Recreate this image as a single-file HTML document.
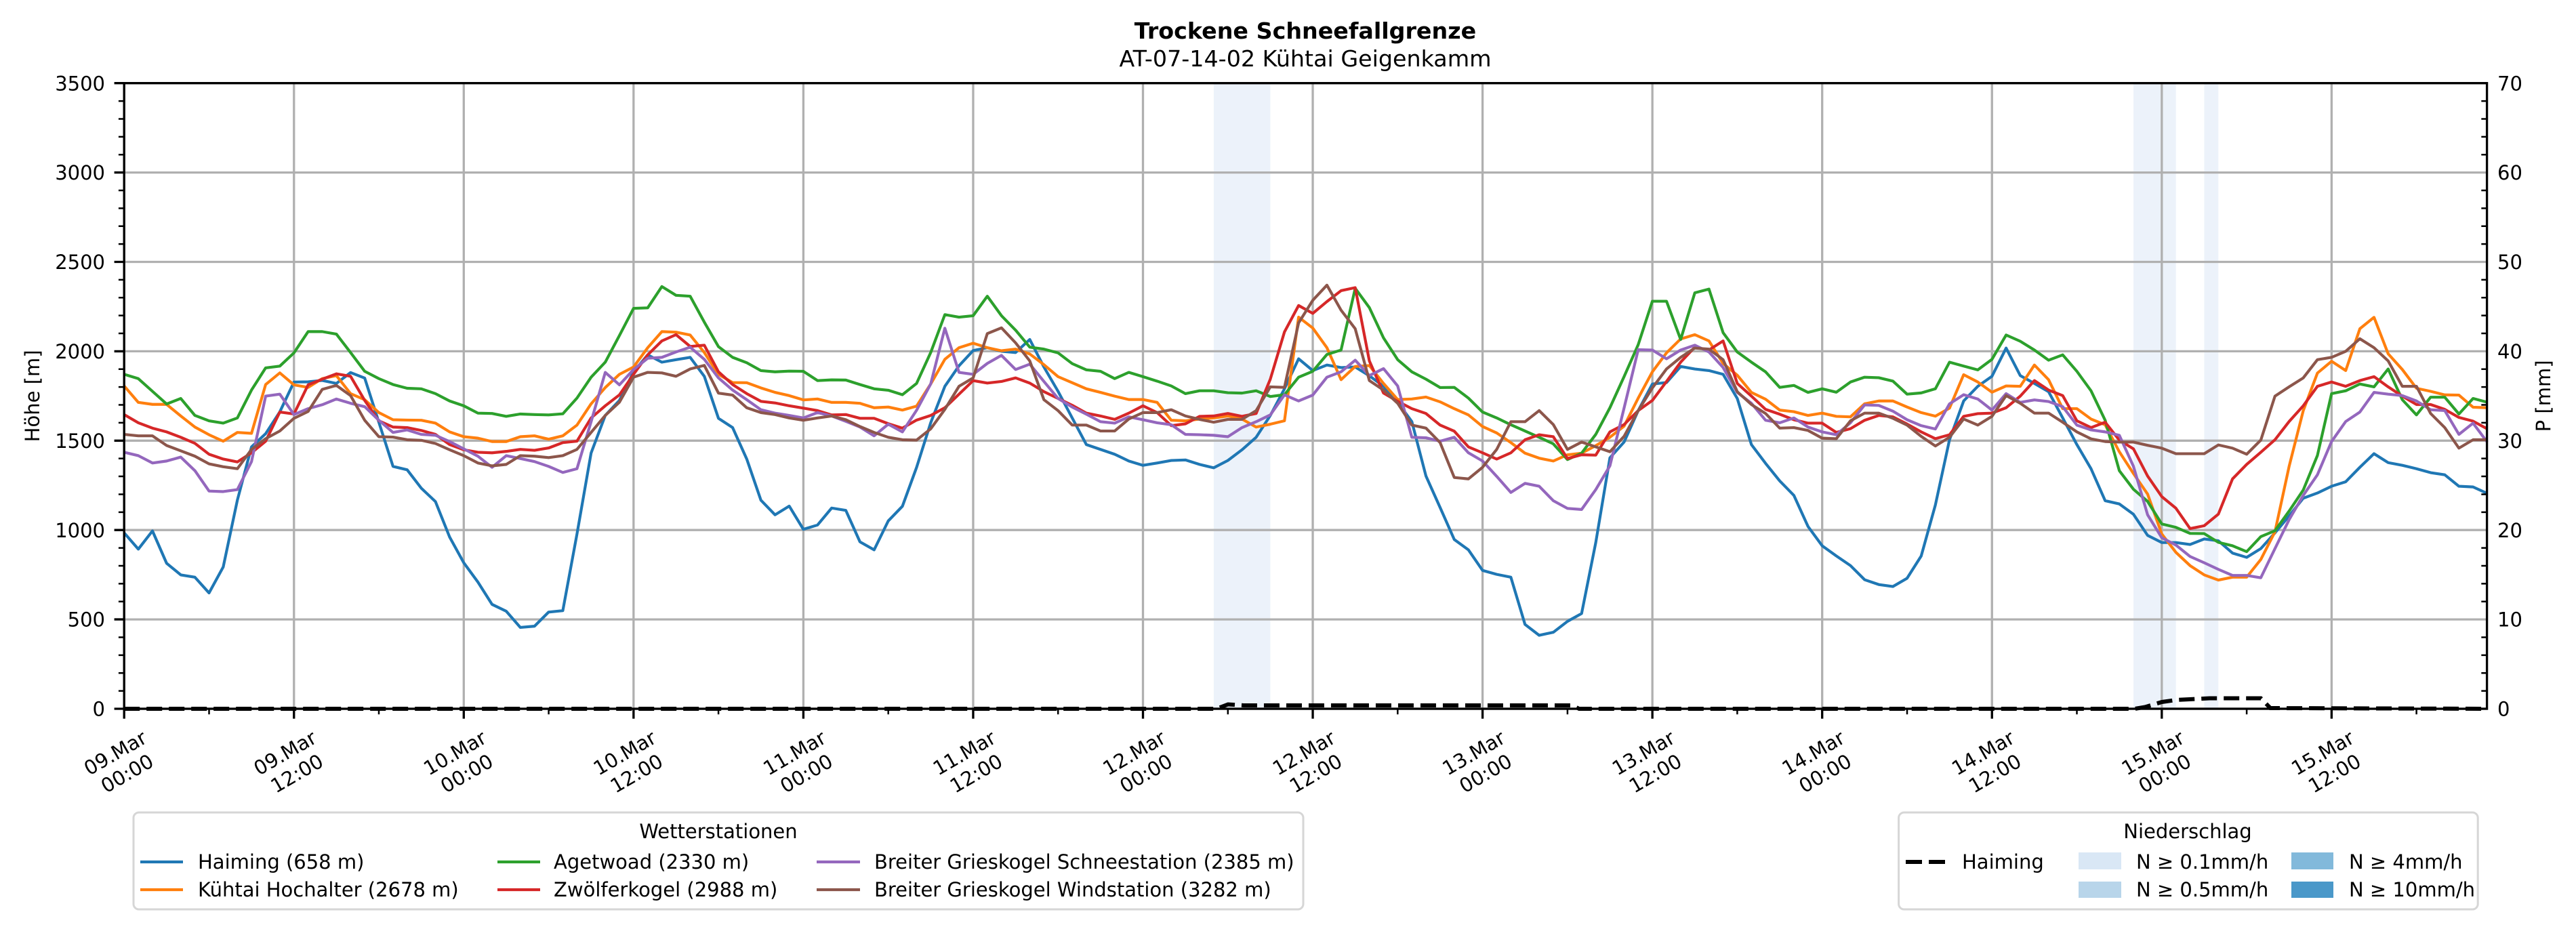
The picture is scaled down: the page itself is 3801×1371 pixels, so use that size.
<!DOCTYPE html>
<html><head><meta charset="utf-8"><style>
html,body{margin:0;padding:0;background:#fff;}
svg{display:block;}
text{font-family:"DejaVu Sans","Liberation Sans",sans-serif;fill:#000;}
</style></head><body>
<svg width="3801" height="1371" viewBox="0 0 3801 1371" xmlns="http://www.w3.org/2000/svg">
<rect x="0" y="0" width="3801" height="1371" fill="#fff"/>
<!-- title -->
<text x="1926" y="57" font-size="33.3" font-weight="bold" text-anchor="middle">Trockene Schneefallgrenze</text>
<text x="1926" y="98" font-size="33.3" text-anchor="middle">AT-07-14-02 Kühtai Geigenkamm</text>

<!-- precipitation shading -->
<g fill="#ecf2fa">
<rect x="1790.9" y="122.7" width="83.5" height="923.3"/>
<rect x="3148" y="122.7" width="62.7" height="923.3"/>
<rect x="3252.4" y="122.7" width="20.9" height="923.3"/>
</g>

<!-- grid -->
<g stroke="#b0b0b0" stroke-width="3.3" fill="none">
<path d="M183.2,122.7V1046 M433.75,122.7V1046 M684.3,122.7V1046 M934.85,122.7V1046 M1185.4,122.7V1046 M1435.95,122.7V1046 M1686.5,122.7V1046 M1937.05,122.7V1046 M2187.6,122.7V1046 M2438.15,122.7V1046 M2688.7,122.7V1046 M2939.25,122.7V1046 M3189.8,122.7V1046 M3440.35,122.7V1046"/>
<path d="M183.2,1046H3669.6 M183.2,914.1H3669.6 M183.2,782.2H3669.6 M183.2,650.3H3669.6 M183.2,518.4H3669.6 M183.2,386.5H3669.6 M183.2,254.6H3669.6 M183.2,122.7H3669.6"/>
</g>

<!-- series -->
<g transform="translate(183.2 1046) scale(20.879 -0.2638)" fill="none" stroke-width="4.17" stroke-linejoin="round">
<polyline vector-effect="non-scaling-stroke" stroke="#1f77b4" points="0,984 1,893 2,995 3,814 4,749 5,736 6,648 7,793 8,1167 9,1465 10,1539 11,1661 12,1828 13,1829 14,1837 15,1820 16,1881 17,1850 18,1603 19,1356 20,1337 21,1234 22,1159 23,961 24,817 25,709 26,584 27,546 28,455 29,462 30,541 31,549 32,977 33,1431 34,1641 35,1725 36,1885 37,1980 38,1939 39,1953 40,1966 41,1860 42,1625 43,1573 44,1397 45,1167 46,1085 47,1134 48,1004 49,1028 50,1123 51,1110 52,934 53,889 54,1051 55,1133 56,1350 57,1600 58,1804 59,1919 60,2004 61,2020 62,2000 63,1993 64,2066 65,1912 66,1776 67,1627 68,1478 69,1451 70,1424 71,1386 72,1362 73,1375 74,1389 75,1392 76,1367 77,1348 78,1389 79,1449 80,1519 81,1641 82,1790 83,1958 84,1892 85,1923 86,1909 87,1912 88,1863 89,1804 90,1715 91,1607 92,1302 93,1126 94,947 95,889 96,774 97,752 98,736 99,472 100,411 101,428 102,489 103,533 104,930 105,1404 106,1492 107,1668 108,1817 109,1825 110,1915 111,1901 112,1892 113,1871 114,1736 115,1478 116,1373 117,1275 118,1194 119,1020 120,912 121,855 122,801 123,722 124,695 125,684 126,730 127,855 128,1140 129,1505 130,1722 131,1804 132,1860 133,2018 134,1864 135,1820 136,1774 137,1627 138,1478 139,1343 140,1164 141,1146 142,1088 143,970 144,930 145,930 146,919 147,950 148,940 149,871 150,847 151,896 152,984 153,1079 154,1178 155,1207 156,1245 157,1270 158,1351 159,1427 160,1377 161,1362 162,1343 163,1321 164,1309 165,1245 166,1241 167,1205"/>
<polyline vector-effect="non-scaling-stroke" stroke="#ff7f0e" points="0,1806 1,1714 2,1703 3,1703 4,1638 5,1576 6,1533 7,1497 8,1546 9,1541 10,1814 11,1879 12,1812 13,1798 14,1847 15,1864 16,1763 17,1729 18,1657 19,1617 20,1615 21,1614 22,1598 23,1549 24,1522 25,1514 26,1495 27,1495 28,1522 29,1527 30,1508 31,1527 32,1587 33,1706 34,1797 35,1871 36,1912 37,2020 38,2110 39,2107 40,2091 41,1993 42,1871 43,1825 44,1824 45,1795 46,1770 47,1752 48,1728 49,1733 50,1714 51,1714 52,1709 53,1684 54,1688 55,1671 56,1693 57,1817 58,1955 59,2020 60,2045 61,2020 62,2003 63,2012 64,1985 65,1925 66,1858 67,1824 68,1790 69,1770 70,1749 71,1730 72,1730 73,1714 74,1614 75,1611 76,1621 77,1627 78,1638 79,1621 80,1576 81,1592 82,1611 83,2191 84,2130 85,2020 86,1841 87,1915 88,1920 89,1820 90,1730 91,1733 92,1744 93,1717 94,1679 95,1644 96,1579 97,1543 98,1489 99,1430 100,1402 101,1386 102,1421 103,1430 104,1472 105,1519 106,1581 107,1738 108,1885 109,1991 110,2069 111,2093 112,2058 113,1932 114,1866 115,1770 116,1732 117,1671 118,1662 119,1641 120,1654 121,1636 122,1633 123,1706 124,1722 125,1722 126,1688 127,1657 128,1637 129,1682 130,1869 131,1828 132,1771 133,1806 134,1804 135,1923 136,1841 137,1679 138,1679 139,1621 140,1589 141,1438 142,1316 143,1201 144,978 145,875 146,801 147,749 148,720 149,736 150,736 151,835 152,990 153,1356 154,1668 155,1878 156,1944 157,1892 158,2126 159,2190 160,1986 161,1898 162,1793 163,1776 164,1756 165,1755 166,1687 167,1684"/>
<polyline vector-effect="non-scaling-stroke" stroke="#2ca02c" points="0,1871 1,1847 2,1776 3,1705 4,1736 5,1641 6,1611 7,1598 8,1627 9,1783 10,1907 11,1917 12,1991 13,2110 14,2110 15,2096 16,1993 17,1888 18,1847 19,1814 20,1793 21,1790 22,1763 23,1722 24,1695 25,1654 26,1652 27,1636 28,1649 29,1646 30,1644 31,1650 32,1738 33,1855 34,1939 35,2088 36,2240 37,2243 38,2362 39,2313 40,2308 41,2163 42,2026 43,1966 44,1936 45,1892 46,1885 47,1889 48,1888 49,1836 50,1840 51,1839 52,1814 53,1790 54,1782 55,1757 56,1820 57,1993 58,2205 59,2191 60,2199 61,2308 62,2199 63,2118 64,2023 65,2012 66,1991 67,1931 68,1896 69,1888 70,1847 71,1882 72,1858 73,1833 74,1806 75,1763 76,1779 77,1779 78,1768 79,1766 80,1779 81,1747 82,1757 83,1855 84,1888 85,1982 86,2007 87,2352 88,2244 89,2075 90,1953 91,1885 92,1844 93,1797 94,1798 95,1738 96,1660 97,1627 98,1589 99,1554 100,1519 101,1482 102,1394 103,1430 104,1535 105,1684 106,1858 107,2037 108,2280 109,2280 110,2066 111,2327 112,2348 113,2104 114,1996 115,1939 116,1885 117,1798 118,1809 119,1770 120,1790 121,1771 122,1828 123,1855 124,1852 125,1833 126,1760 127,1767 128,1790 129,1939 130,1917 131,1896 132,1955 133,2091 134,2056 135,2007 136,1950 137,1980 138,1888 139,1779 140,1614 141,1332 142,1228 143,1160 144,1034 145,1015 146,981 147,980 148,931 149,912 150,879 151,963 152,996 153,1106 154,1224 155,1417 156,1763 157,1779 158,1817 159,1801 160,1901 161,1729 162,1644 163,1743 164,1743 165,1649 166,1736 167,1715"/>
<polyline vector-effect="non-scaling-stroke" stroke="#d62728" points="0,1646 1,1600 2,1570 3,1549 4,1519 5,1485 6,1424 7,1397 8,1381 9,1432 10,1497 11,1660 12,1649 13,1812 14,1844 15,1874 16,1860 17,1725 18,1611 19,1576 20,1573 21,1557 22,1535 23,1478 24,1449 25,1435 26,1432 27,1440 28,1451 29,1446 30,1459 31,1489 32,1497 33,1627 34,1695 35,1756 36,1871 37,1980 38,2058 39,2093 40,2027 41,2034 42,1885 43,1814 44,1763 45,1720 46,1711 47,1695 48,1682 49,1668 50,1644 51,1646 52,1625 53,1625 54,1595 55,1570 56,1615 57,1641 58,1684 59,1760 60,1836 61,1822 62,1831 63,1851 64,1822 65,1774 66,1736 67,1698 68,1654 69,1638 70,1619 71,1654 72,1695 73,1657 74,1584 75,1594 76,1636 77,1638 78,1652 79,1636 80,1652 81,1844 82,2108 83,2256 84,2212 85,2278 86,2339 87,2356 88,1946 89,1766 90,1720 91,1679 92,1652 93,1587 94,1553 95,1465 96,1432 97,1397 98,1432 99,1505 100,1533 101,1522 102,1400 103,1421 104,1419 105,1549 106,1590 107,1668 108,1725 109,1831 110,1939 111,2023 112,2007 113,2058 114,1820 115,1749 116,1675 117,1648 118,1617 119,1598 120,1598 121,1546 122,1567 123,1614 124,1641 125,1633 126,1593 127,1549 128,1511 129,1533 130,1636 131,1651 132,1654 133,1684 134,1749 135,1836 136,1783 137,1752 138,1611 139,1573 140,1603 141,1503 142,1454 143,1302 144,1187 145,1122 146,1008 147,1024 148,1089 149,1286 150,1367 151,1435 152,1505 153,1607 154,1695 155,1804 156,1828 157,1804 158,1836 159,1858 160,1801 161,1749 162,1702 163,1702 164,1675 165,1630 166,1609 167,1566"/>
<polyline vector-effect="non-scaling-stroke" stroke="#9467bd" points="0,1435 1,1416 2,1375 3,1386 4,1408 5,1332 6,1218 7,1215 8,1226 9,1383 10,1749 11,1760 12,1646 13,1679 14,1701 15,1733 16,1709 17,1690 18,1614 19,1546 20,1560 21,1535 22,1530 23,1495 24,1454 25,1413 26,1351 27,1416 28,1400 29,1383 30,1356 31,1322 32,1343 33,1606 34,1882 35,1812 36,1898 37,1961 38,1966 39,1996 40,2023 41,1955 42,1851 43,1783 44,1729 45,1673 46,1654 47,1641 48,1627 49,1657 50,1638 51,1608 52,1576 53,1527 54,1592 55,1549 56,1670 57,1817 58,2129 59,1882 60,1871 61,1932 62,1977 63,1898 64,1928 65,1831 66,1736 67,1688 68,1648 69,1606 70,1598 71,1633 72,1617 73,1600 74,1589 75,1535 76,1533 77,1530 78,1522 79,1573 80,1606 81,1644 82,1756 83,1722 84,1755 85,1855 86,1885 87,1950 88,1864 89,1903 90,1806 91,1519 92,1516 93,1497 94,1519 95,1432 96,1386 97,1300 98,1210 99,1261 100,1245 101,1164 102,1121 103,1115 104,1226 105,1359 106,1682 107,2009 108,2007 109,1958 110,2007 111,2034 112,1996 113,1909 114,1770 115,1709 116,1614 117,1600 118,1627 119,1576 120,1549 121,1533 122,1600 123,1700 124,1697 125,1665 126,1617 127,1584 128,1565 129,1706 130,1757 131,1733 132,1671 133,1763 134,1714 135,1728 136,1719 137,1690 138,1587 139,1560 140,1549 141,1530 142,1356 143,1085 144,957 145,916 146,852 147,817 148,780 149,746 150,746 151,733 152,896 153,1058 154,1194 155,1309 156,1495 157,1607 158,1660 159,1770 160,1760 161,1752 162,1722 163,1673 164,1668 165,1535 166,1598 167,1492"/>
<polyline vector-effect="non-scaling-stroke" stroke="#8c564b" points="0,1535 1,1527 2,1527 3,1473 4,1443 5,1413 6,1370 7,1354 8,1343 9,1451 10,1511 11,1554 12,1625 13,1663 14,1787 15,1809 16,1752 17,1614 18,1522 19,1520 20,1505 21,1502 22,1484 23,1449 24,1416 25,1375 26,1359 27,1367 28,1416 29,1413 30,1405 31,1416 32,1451 33,1546 34,1641 35,1715 36,1855 37,1882 38,1879 39,1860 40,1901 41,1921 42,1766 43,1755 44,1684 45,1657 46,1646 47,1627 48,1614 49,1627 50,1638 51,1617 52,1579 53,1546 54,1519 55,1505 56,1503 57,1566 58,1675 59,1804 60,1851 61,2099 62,2131 63,2047 64,1946 65,1729 66,1668 67,1587 68,1587 69,1554 70,1554 71,1621 72,1657 73,1657 74,1673 75,1638 76,1619 77,1603 78,1619 79,1619 80,1668 81,1801 82,1798 83,2159 84,2285 85,2370 86,2230 87,2126 88,1836 89,1783 90,1709 91,1587 92,1570 93,1489 94,1294 95,1286 96,1351 97,1451 98,1606 99,1606 100,1668 101,1590 102,1451 103,1492 104,1465 105,1438 106,1524 107,1668 108,1795 109,1901 110,1966 111,2018 112,2012 113,1953 114,1774 115,1702 116,1652 117,1570 118,1573 119,1557 120,1514 121,1511 122,1611 123,1654 124,1654 125,1625 126,1587 127,1524 128,1470 129,1519 130,1621 131,1587 132,1636 133,1752 134,1709 135,1654 136,1654 137,1603 138,1549 139,1510 140,1495 141,1492 142,1492 143,1474 144,1458 145,1427 146,1427 147,1427 148,1476 149,1458 150,1424 151,1503 152,1749 153,1801 154,1851 155,1953 156,1966 157,2000 158,2070 159,2020 160,1946 161,1804 162,1804 163,1652 164,1573 165,1458 166,1505 167,1505"/>
</g>

<!-- spines -->
<g stroke="#000" stroke-width="3.33" fill="none">
<rect x="183.2" y="122.7" width="3486.4" height="923.3"/>
</g>

<!-- precipitation dashed line -->
<path d="M183.2,1046 L1795,1046 L1812,1039.5 L1835,1041 L2320,1041 L2330,1046 L3150,1046 L3165,1043.5 L3190,1036 L3211,1033 L3260,1030.5 L3336,1030.5 L3350,1045 L3669.6,1046" fill="none" stroke="#000" stroke-width="6" stroke-dasharray="23 10"/>

<!-- ticks -->
<g stroke="#000" fill="none">
<path stroke-width="3.33" d="M168.6,1046H183.2 M168.6,914.1H183.2 M168.6,782.2H183.2 M168.6,650.3H183.2 M168.6,518.4H183.2 M168.6,386.5H183.2 M168.6,254.6H183.2 M168.6,122.7H183.2"/>
<path stroke-width="2.5" d="M174.9,1019.62H183.2 M174.9,993.24H183.2 M174.9,966.86H183.2 M174.9,940.48H183.2 M174.9,887.72H183.2 M174.9,861.34H183.2 M174.9,834.96H183.2 M174.9,808.58H183.2 M174.9,755.82H183.2 M174.9,729.44H183.2 M174.9,703.06H183.2 M174.9,676.68H183.2 M174.9,623.92H183.2 M174.9,597.54H183.2 M174.9,571.16H183.2 M174.9,544.78H183.2 M174.9,492.02H183.2 M174.9,465.64H183.2 M174.9,439.26H183.2 M174.9,412.88H183.2 M174.9,360.12H183.2 M174.9,333.74H183.2 M174.9,307.36H183.2 M174.9,280.98H183.2 M174.9,228.22H183.2 M174.9,201.84H183.2 M174.9,175.46H183.2 M174.9,149.08H183.2"/>
<path stroke-width="2.5" d="M3661.3,1019.62H3669.6 M3661.3,993.24H3669.6 M3661.3,966.86H3669.6 M3661.3,940.48H3669.6 M3661.3,887.72H3669.6 M3661.3,861.34H3669.6 M3661.3,834.96H3669.6 M3661.3,808.58H3669.6 M3661.3,755.82H3669.6 M3661.3,729.44H3669.6 M3661.3,703.06H3669.6 M3661.3,676.68H3669.6 M3661.3,623.92H3669.6 M3661.3,597.54H3669.6 M3661.3,571.16H3669.6 M3661.3,544.78H3669.6 M3661.3,492.02H3669.6 M3661.3,465.64H3669.6 M3661.3,439.26H3669.6 M3661.3,412.88H3669.6 M3661.3,360.12H3669.6 M3661.3,333.74H3669.6 M3661.3,307.36H3669.6 M3661.3,280.98H3669.6 M3661.3,228.22H3669.6 M3661.3,201.84H3669.6 M3661.3,175.46H3669.6 M3661.3,149.08H3669.6"/>
<path stroke-width="3.33" d="M183.2,1046V1060.6 M433.75,1046V1060.6 M684.3,1046V1060.6 M934.85,1046V1060.6 M1185.4,1046V1060.6 M1435.95,1046V1060.6 M1686.5,1046V1060.6 M1937.05,1046V1060.6 M2187.6,1046V1060.6 M2438.15,1046V1060.6 M2688.7,1046V1060.6 M2939.25,1046V1060.6 M3189.8,1046V1060.6 M3440.35,1046V1060.6"/>
<path stroke-width="2.5" d="M308.5,1046V1054.3 M559,1046V1054.3 M809.6,1046V1054.3 M1060.1,1046V1054.3 M1310.7,1046V1054.3 M1561.2,1046V1054.3 M1811.8,1046V1054.3 M2062.3,1046V1054.3 M2312.9,1046V1054.3 M2563.4,1046V1054.3 M2814,1046V1054.3 M3064.5,1046V1054.3 M3315.1,1046V1054.3 M3565.6,1046V1054.3"/>
</g>

<!-- left tick labels -->
<g font-size="29" text-anchor="end">
<text x="155" y="1056.6">0</text>
<text x="155" y="924.7">500</text>
<text x="155" y="792.8">1000</text>
<text x="155" y="660.9">1500</text>
<text x="155" y="529">2000</text>
<text x="155" y="397.1">2500</text>
<text x="155" y="265.2">3000</text>
<text x="155" y="133.3">3500</text>
</g>
<!-- right tick labels -->
<g font-size="29" text-anchor="start">
<text x="3685" y="1056.6">0</text>
<text x="3685" y="924.7">10</text>
<text x="3685" y="792.8">20</text>
<text x="3685" y="660.9">30</text>
<text x="3685" y="529">40</text>
<text x="3685" y="397.1">50</text>
<text x="3685" y="265.2">60</text>
<text x="3685" y="133.3">70</text>
</g>
<text font-size="29" text-anchor="middle" transform="translate(58 584.4) rotate(-90)">Höhe [m]</text>
<text font-size="29" text-anchor="middle" transform="translate(3763 584.4) rotate(-90)">P [mm]</text>

<!-- x tick labels -->
<g font-size="29" text-anchor="middle">
<text transform="translate(178.7 1126) rotate(-30)"><tspan x="0" y="-7">09.Mar</tspan><tspan x="0" y="28">00:00</tspan></text>
<text transform="translate(429.2 1126) rotate(-30)"><tspan x="0" y="-7">09.Mar</tspan><tspan x="0" y="28">12:00</tspan></text>
<text transform="translate(679.8 1126) rotate(-30)"><tspan x="0" y="-7">10.Mar</tspan><tspan x="0" y="28">00:00</tspan></text>
<text transform="translate(930.3 1126) rotate(-30)"><tspan x="0" y="-7">10.Mar</tspan><tspan x="0" y="28">12:00</tspan></text>
<text transform="translate(1180.9 1126) rotate(-30)"><tspan x="0" y="-7">11.Mar</tspan><tspan x="0" y="28">00:00</tspan></text>
<text transform="translate(1431.4 1126) rotate(-30)"><tspan x="0" y="-7">11.Mar</tspan><tspan x="0" y="28">12:00</tspan></text>
<text transform="translate(1682 1126) rotate(-30)"><tspan x="0" y="-7">12.Mar</tspan><tspan x="0" y="28">00:00</tspan></text>
<text transform="translate(1932.5 1126) rotate(-30)"><tspan x="0" y="-7">12.Mar</tspan><tspan x="0" y="28">12:00</tspan></text>
<text transform="translate(2183.1 1126) rotate(-30)"><tspan x="0" y="-7">13.Mar</tspan><tspan x="0" y="28">00:00</tspan></text>
<text transform="translate(2433.6 1126) rotate(-30)"><tspan x="0" y="-7">13.Mar</tspan><tspan x="0" y="28">12:00</tspan></text>
<text transform="translate(2684.2 1126) rotate(-30)"><tspan x="0" y="-7">14.Mar</tspan><tspan x="0" y="28">00:00</tspan></text>
<text transform="translate(2934.7 1126) rotate(-30)"><tspan x="0" y="-7">14.Mar</tspan><tspan x="0" y="28">12:00</tspan></text>
<text transform="translate(3185.3 1126) rotate(-30)"><tspan x="0" y="-7">15.Mar</tspan><tspan x="0" y="28">00:00</tspan></text>
<text transform="translate(3435.8 1126) rotate(-30)"><tspan x="0" y="-7">15.Mar</tspan><tspan x="0" y="28">12:00</tspan></text>
</g>

<!-- legend 1 -->
<rect x="197" y="1199" width="1726" height="143" rx="8" ry="8" fill="#fff" stroke="#d6d6d6" stroke-width="3"/>
<text x="1060" y="1237" font-size="29" text-anchor="middle">Wetterstationen</text>
<g stroke-width="4.17" fill="none">
<path d="M207,1272H270" stroke="#1f77b4"/>
<path d="M207,1313H270" stroke="#ff7f0e"/>
<path d="M734,1272H797" stroke="#2ca02c"/>
<path d="M734,1313H797" stroke="#d62728"/>
<path d="M1205,1272H1269" stroke="#9467bd"/>
<path d="M1205,1313H1269" stroke="#8c564b"/>
</g>
<g font-size="29">
<text x="292" y="1282">Haiming (658 m)</text>
<text x="292" y="1323">Kühtai Hochalter (2678 m)</text>
<text x="817" y="1282">Agetwoad (2330 m)</text>
<text x="817" y="1323">Zwölferkogel (2988 m)</text>
<text x="1290" y="1282">Breiter Grieskogel Schneestation (2385 m)</text>
<text x="1290" y="1323">Breiter Grieskogel Windstation (3282 m)</text>
</g>

<!-- legend 2 -->
<rect x="2801.6" y="1199" width="854.6" height="143" rx="8" ry="8" fill="#fff" stroke="#d6d6d6" stroke-width="3"/>
<text x="3228" y="1237" font-size="29" text-anchor="middle">Niederschlag</text>
<path d="M2812,1272H2871" stroke="#000" stroke-width="6" stroke-dasharray="24 10" fill="none"/>
<rect x="3067" y="1258" width="63" height="25" fill="#d9e7f5"/>
<rect x="3067" y="1301" width="63" height="24" fill="#b8d5ea"/>
<rect x="3381" y="1258" width="62" height="25" fill="#82b9db"/>
<rect x="3381" y="1301" width="62" height="24" fill="#4a98c9"/>
<g font-size="29">
<text x="2895" y="1282">Haiming</text>
<text x="3152" y="1282">N ≥ 0.1mm/h</text>
<text x="3152" y="1323">N ≥ 0.5mm/h</text>
<text x="3466" y="1282">N ≥ 4mm/h</text>
<text x="3466" y="1323">N ≥ 10mm/h</text>
</g>
</svg>
</body></html>
